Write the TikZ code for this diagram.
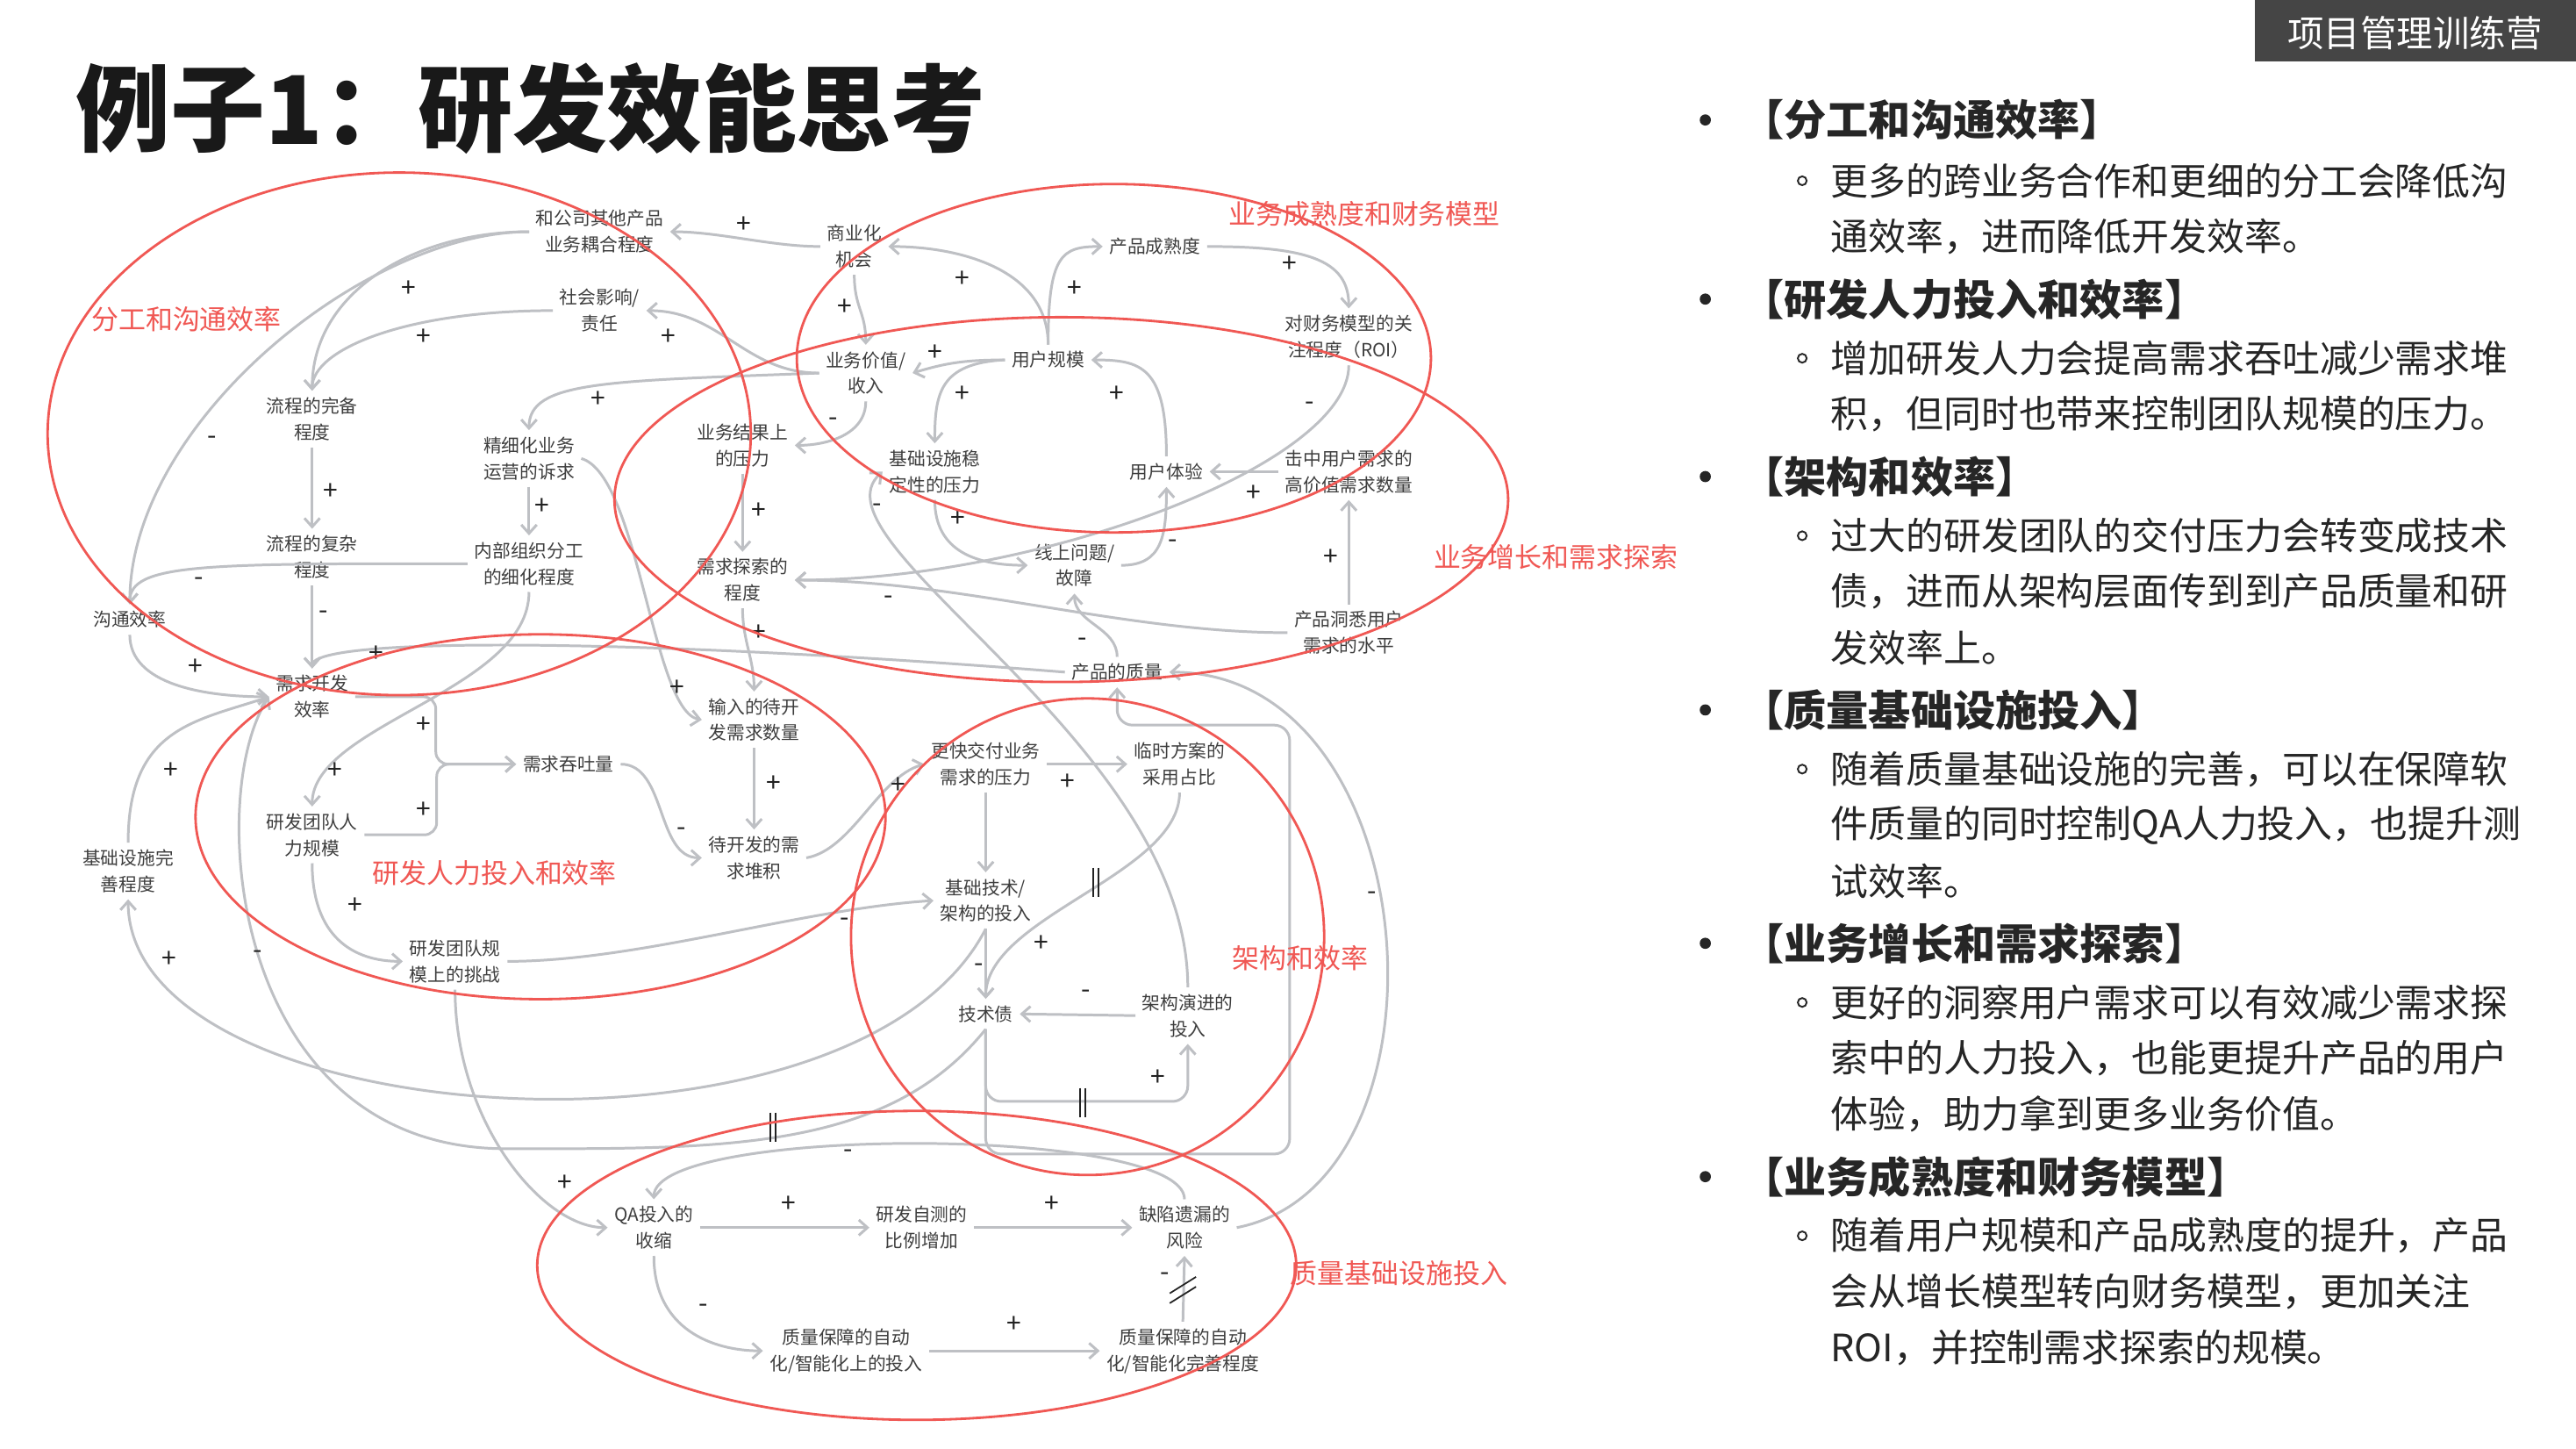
\documentclass[tikz,border=0pt]{standalone}
\usepackage{fontspec}
\setmainfont{Noto Sans CJK SC}
\usetikzlibrary{arrows.meta}

\definecolor{linkgray}{RGB}{190,192,196}
\definecolor{ringred}{RGB}{240,88,84}
\definecolor{labelgray}{RGB}{62,62,62}
\definecolor{signblack}{RGB}{34,34,34}
\definecolor{bodygray}{RGB}{38,38,38}
\definecolor{badgegray}{RGB}{69,69,69}

\tikzset{
  var/.style={font=\fontsize{5.9}{8.5}\selectfont, text=labelgray, align=center, inner sep=2pt},
  link/.style={draw=linkgray, line width=0.85pt, ->},
  pol/.style={font=\fontsize{8.5}{9}\selectfont, text=signblack, inner sep=0pt},
  ring/.style={draw=ringred, line width=0.8pt},
  loopname/.style={font=\fontsize{8.8}{10}\selectfont, text=ringred, inner sep=0pt},
  delay/.style={draw=signblack, line width=0.5pt},
  headline/.style={anchor=west, inner sep=0pt, font=\fontsize{13.7}{16}\selectfont\bfseries, text=bodygray},
  bodyline/.style={anchor=west, inner sep=0pt, font=\fontsize{12.2}{14}\selectfont, text=bodygray},
}
% two short strokes on a link
\newcommand{\delaymark}[2]{\draw[delay] (#1-1.6,#2-9) -- (#1-1.6,#2+9) (#1+1.6,#2-9) -- (#1+1.6,#2+9);}

\begin{document}
\begin{tikzpicture}[x=0.018724cm, y=-0.018724cm, >={Straight Barb[length=2.8pt,width=5pt]}]
  \fill[white] (0,0) rectangle (1568,881.2);
  \useasboundingbox (0,0) rectangle (1568,881.2);

  % title and badge
  \node[anchor=west, inner sep=0pt, font=\fontsize{30.7}{36}\selectfont\bfseries, text=black!90] (title) at (46,66) {例子1：研发效能思考};
  \fill[badgegray] (1372.5,0) rectangle (1568,37.4);
  \node[text=white, font=\fontsize{11.8}{14}\selectfont, inner sep=0pt] (badge) at (1470,20) {项目管理训练营};

  % variables
  \node[var] (cpl) at (365,141) {和公司其他产品\\业务耦合程度};
  \node[var] (soc) at (365,189) {社会影响/\\责任};
  \node[var] (biz) at (520,150) {商业化\\机会};
  \node[var] (mat) at (703,150) {产品成熟度};
  \node[var] (roi) at (821,205) {对财务模型的关\\注程度（ROI）};
  \node[var] (val) at (527,227) {业务价值/\\收入};
  \node[var] (usr) at (638,219) {用户规模};
  \node[var] (pcom) at (190,255) {流程的完备\\程度};
  \node[var] (ops) at (322,279) {精细化业务\\运营的诉求};
  \node[var] (press) at (452,271) {业务结果上\\的压力};
  \node[var] (infp) at (569,287) {基础设施稳\\定性的压力};
  \node[var] (ux) at (710,287) {用户体验};
  \node[var] (hit) at (821,287) {击中用户需求的\\高价值需求数量};
  \node[var] (pcx) at (190,339) {流程的复杂\\程度};
  \node[var] (org) at (322,343) {内部组织分工\\的细化程度};
  \node[var] (expl) at (452,353) {需求探索的\\程度};
  \node[var] (bug) at (654,344) {线上问题/\\故障};
  \node[var] (comm) at (79,377) {沟通效率};
  \node[var] (insight) at (821,385) {产品洞悉用户\\需求的水平};
  \node[var] (qual) at (680,409) {产品的质量};
  \node[var] (eff) at (190,424) {需求开发\\效率};
  \node[var] (inq) at (459,438) {输入的待开\\发需求数量};
  \node[var] (thr) at (346,465) {需求吞吐量};
  \node[var] (fast) at (600,465) {更快交付业务\\需求的压力};
  \node[var] (tmp) at (718,465) {临时方案的\\采用占比};
  \node[var] (team) at (190,508) {研发团队人\\力规模};
  \node[var] (back) at (459,522) {待开发的需\\求堆积};
  \node[var] (infc) at (78,530) {基础设施完\\善程度};
  \node[var] (arch) at (600,548) {基础技术/\\架构的投入};
  \node[var] (scale) at (277,585) {研发团队规\\模上的挑战};
  \node[var] (debt) at (600,617) {技术债};
  \node[var] (evo) at (723,618) {架构演进的\\投入};
  \node[var] (qa) at (398,747) {QA投入的\\收缩};
  \node[var] (selftest) at (561,747) {研发自测的\\比例增加};
  \node[var] (leak) at (721,747) {缺陷遗漏的\\风险};
  \node[var] (autoin) at (515,822) {质量保障的自动\\化/智能化上的投入};
  \node[var] (autolv) at (720,822) {质量保障的自动\\化/智能化完善程度};
  \coordinate (debtdip) at (308,699);

  % links
  \draw[link] (biz.west) .. controls +(-30,0) and +(30,0) .. (cpl.east);
  \draw[link] (cpl.west) .. controls +(-70,0) and +(0,-60) .. (pcom.north);
  \draw[link] (soc.west) .. controls +(-90,0) and +(0,-25) .. (pcom.north);
  \draw[link] (cpl.west) .. controls +(-100,0) and +(0,-110) .. (comm.north);
  \draw[link] (org.west) .. controls +(-160,0) and +(0,-25) .. (comm.north);
  \draw[link] (pcom.south) -- (pcx.north);
  \draw[link] (pcx.south) -- (eff.north);
  \draw[link] (ops.south) -- (org.north);
  \draw[link] (val.west) .. controls +(-130,5) and +(0,-30) .. (ops.north);
  \draw[link] (val.west) .. controls +(-45,0) and +(45,0) .. (soc.east);
  \draw[link] (ops.east) .. controls +(35,10) and +(-30,-5) .. (inq.west);
  \draw[link] (org.south) .. controls +(0,60) and +(0,-50) .. (team.north);
  \draw[link] (comm.south) .. controls +(0,30) and +(-40,0) .. (eff.west);
  \draw[link] (infc.north) .. controls +(0,-70) and +(-45,15) .. (eff.west);
  \draw[link] (qual.west) .. controls +(-250,-20) and +(0,-20) .. (eff.north);
  \draw[link, rounded corners=4pt] (eff.east) -- ++(49,0) |- (thr.west);
  \draw[link, rounded corners=4pt] (team.east) -- ++(44,0) |- (thr.west);
  \draw[link] (thr.east) .. controls +(28,0) and +(-28,0) .. (back.west);
  \draw[link] (inq.south) -- (back.north);
  \draw[link] (expl.south) .. controls +(0,20) and +(0,-20) .. (inq.north);
  \draw[link] (press.south) -- (expl.north);
  \draw[link] (val.south) .. controls +(0,20) and +(20,0) .. (press.east);
  \draw[link] (biz.south) .. controls +(0,20) and +(0,-20) .. (val.north);
  \draw[link] (usr.north) .. controls +(0,-45) and +(45,0) .. (biz.east);
  \draw[link] (usr.north) .. controls +(0,-55) and +(-25,0) .. (mat.west);
  \draw[link] (mat.east) .. controls +(60,0) and +(0,-30) .. (roi.north);
  \draw[link] (usr.west) .. controls +(-25,0) and +(20,-6) .. (val.east);
  \draw[link] (usr.west) .. controls +(-40,2) and +(0,-30) .. (infp.north);
  \draw[link] (ux.north) .. controls +(0,-55) and +(30,0) .. (usr.east);
  \draw[link] (roi.south) .. controls +(0,60) and +(150,0) .. (expl.east);
  \draw[link] (hit.west) -- (ux.east);
  \draw[link] (insight.north) -- (hit.south);
  \draw[link] (insight.west) .. controls +(-100,0) and +(100,0) .. (expl.east);
  \draw[link] (bug.east) .. controls +(25,0) and +(0,30) .. (ux.south);
  \draw[link] (infp.south) .. controls +(0,32) and +(-30,0) .. (bug.west);
  \draw[link] (qual.north) .. controls +(0,-18) and +(0,18) .. (bug.south);
  \draw[link] (evo.north) .. controls +(0,-150) and +(-48,43) .. (infp.west);
  \draw[link] (back.east) .. controls +(28,-5) and +(-28,8) .. (fast.west);
  \draw[link] (fast.east) -- (tmp.west);
  \draw[link] (fast.south) -- (arch.north);
  \draw[link] (tmp.south) .. controls +(0,50) and +(0,-50) .. (debt.north);
  \draw[link] (arch.south) -- (debt.north);
  \draw[link] (evo.west) -- (debt.east);
  \draw[link, rounded corners=5pt] (debt.south) -- ++(0,44) -| (evo.south);
  \draw[link, rounded corners=5pt] (debt.south) -- ++(0,76) -- ++(185,0) -- ++(0,-261) -| (qual.south);
  \draw[link] (leak.east) .. controls +(138,-27) and +(158,0) .. (qual.east);
  \draw[link] (team.south) .. controls +(0,45) and +(-30,0) .. (scale.west);
  \draw[link] (scale.east) .. controls +(80,0) and +(-80,5) .. (arch.west);
  \draw[link] (scale.south) .. controls +(0,80) and +(-40,0) .. (qa.west);
  \draw[link] (arch.south) .. controls +(-80,155) and +(0,143) .. (infc.south);
  \draw[link] (debt.south) .. controls +(-60,75) and +(130,0) .. (debtdip)
                           .. controls +(-168,0) and +(-39,60) .. (eff.west);
  \draw[link] (leak.north) .. controls +(0,-45) and +(0,-45) .. (qa.north);
  \draw[link] (qa.east) -- (selftest.west);
  \draw[link] (selftest.east) -- (leak.west);
  \draw[link] (qa.south) .. controls +(0,45) and +(-30,0) .. (autoin.west);
  \draw[link] (autoin.east) -- (autolv.west);
  \draw[link] (autolv.north) -- (leak.south);

  % delays
  \delaymark{667}{537}
  \delaymark{659}{671}
  \delaymark{470.5}{686}
  \draw[delay] (712,787) -- (728,777) (712,793) -- (728,783);

  % polarities
  \foreach \x/\y/\s [count=\i] in {453/137/+, 249/176/+, 258/205/+, 129/268/-, 121/354/-,
      201/299/+, 197/374/-, 330/308/+, 364/243/+, 407/205/+, 412/419/+, 204/469/+,
      119/406/+, 104/469/+, 229/398/+, 258/441/+, 258/493/+, 415/506/-, 471/477/+,
      462/385/+, 462/311/+, 507/257/-, 514/187/+, 586/170/+, 654/176/+, 785/161/+,
      569/215/+, 586/240/+, 680/240/+, 797/247/-, 763/300/+, 810/339/+, 541/365/-,
      714/331/-, 583/316/+, 659/391/-, 534/309/-, 547/478/+, 650/476/+, 634/574/+,
      596/589/-, 661/605/-, 705/656/+, 835/545/-, 216/551/+, 514/561/-, 344/720/+,
      103/584/+, 157/581/-, 516/702/-, 480/733/+, 640/733/+, 428/796/-, 617/806/+, 709/777/-}
    \node[pol] (sign\i) at (\x,\y) {\s};

  % loops
  \draw[ring] (243,264) ellipse [x radius=214, y radius=159];
  \draw[ring] (678,218) ellipse [x radius=193, y radius=106];
  \draw[ring] (646,304) ellipse [x radius=272, y radius=111];
  \draw[ring] (329,497) ellipse [x radius=210, y radius=111];
  \draw[ring] (662,570) ellipse [x radius=144, y radius=145];
  \draw[ring] (558,770) ellipse [x radius=231, y radius=94];
  \node[loopname] (loop1) at (113.5,194) {分工和沟通效率};
  \node[loopname] (loop2) at (830.5,130) {业务成熟度和财务模型};
  \node[loopname] (loop3) at (947,339) {业务增长和需求探索};
  \node[loopname] (loop4) at (301,531) {研发人力投入和效率};
  \node[loopname] (loop5) at (791.5,583) {架构和效率};
  \node[loopname] (loop6) at (851.5,775) {质量基础设施投入};

  % notes on the right
  \foreach \y/\t [count=\i] in {73/{【分工和沟通效率】}, 182/{【研发人力投入和效率】},
      290/{【架构和效率】}, 432/{【质量基础设施投入】}, 574/{【业务增长和需求探索】},
      716/{【业务成熟度和财务模型】}} {
    \fill[bodygray] (1038,\y) circle (3.4);
    \node[headline] (head\i) at (1060,\y) {\t};
  }
  \foreach \y in {110, 218, 326, 468, 610, 752}
    \draw[bodygray, line width=0.55pt] (1097,\y) circle (2.7);
  \foreach \y/\t [count=\i] in {110/{更多的跨业务合作和更细的分工会降低沟}, 144/{通效率，进而降低开发效率。},
      218/{增加研发人力会提高需求吞吐减少需求堆}, 252/{积，但同时也带来控制团队规模的压力。},
      326/{过大的研发团队的交付压力会转变成技术}, 360/{债，进而从架构层面传到到产品质量和研},
      394/{发效率上。},
      468/{随着质量基础设施的完善，可以在保障软}, 502/{件质量的同时控制QA人力投入，也提升测},
      536/{试效率。},
      610/{更好的洞察用户需求可以有效减少需求探}, 644/{索中的人力投入，也能更提升产品的用户},
      678/{体验，助力拿到更多业务价值。},
      752/{随着用户规模和产品成熟度的提升，产品}, 786/{会从增长模型转向财务模型，更加关注},
      820/{ROI，并控制需求探索的规模。}}
    \node[bodyline] (body\i) at (1114,\y) {\t};
\end{tikzpicture}
\end{document}
